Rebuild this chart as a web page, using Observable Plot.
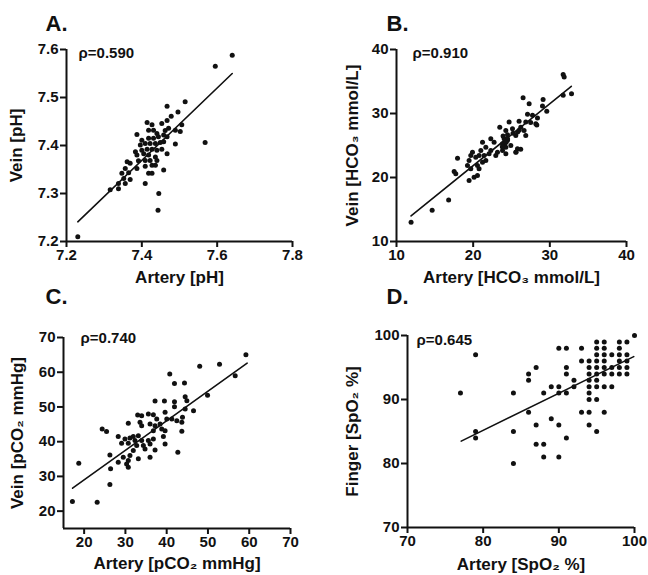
<!DOCTYPE html>
<html><head><meta charset="utf-8">
<script src="https://cdn.jsdelivr.net/npm/d3@7"></script>
<script src="https://cdn.jsdelivr.net/npm/@observablehq/plot@0.6"></script>
<style>
body{margin:0;background:#fff;}
#wrap{position:relative;width:648px;height:575px;overflow:hidden;background:#fff;}
#wrap > svg{position:absolute;}
</style></head><body><div id="wrap"></div>
<script>
// ---- Panel A: pH (artery, vein)
const phPoints = [
[7.23,7.21],[7.64,7.588],[7.595,7.565],[7.568,7.406],
[7.467,7.482],[7.515,7.491],[7.496,7.470],[7.478,7.461],
[7.414,7.448],[7.427,7.443],[7.453,7.446],[7.467,7.452],
[7.387,7.423],[7.418,7.432],[7.431,7.432],[7.440,7.425],[7.462,7.431],[7.471,7.436],[7.489,7.432],[7.506,7.443],[7.502,7.429],
[7.400,7.411],[7.418,7.415],[7.431,7.415],[7.444,7.418],[7.458,7.422],[7.467,7.418],
[7.396,7.401],[7.409,7.404],[7.422,7.404],[7.436,7.404],[7.449,7.406],[7.458,7.408],[7.489,7.403],
[7.383,7.387],[7.400,7.390],[7.414,7.392],[7.427,7.392],[7.440,7.390],[7.453,7.392],[7.467,7.383],
[7.387,7.380],[7.405,7.383],[7.418,7.380],[7.436,7.376],
[7.361,7.366],[7.369,7.363],[7.391,7.368],[7.409,7.369],[7.422,7.369],[7.440,7.369],
[7.356,7.352],[7.387,7.352],[7.409,7.357],[7.427,7.359],[7.436,7.359],[7.458,7.349],
[7.347,7.342],[7.365,7.343],[7.418,7.342],[7.427,7.342],
[7.352,7.331],[7.338,7.321],[7.356,7.321],[7.369,7.329],
[7.316,7.308],[7.338,7.310],[7.409,7.321],
[7.445,7.300],[7.443,7.265]
];
const phFit = [[7.23,7.241],[7.64,7.55]];
const phTicksX = [7.2,7.4,7.6,7.8];
const phTicksY = [7.2,7.3,7.4,7.5,7.6];

// ---- Panel B: HCO3
const hco3Points = [
[11.9,13.0],[14.65,14.9],[16.8,16.5],[31.74,36.1],[31.87,35.7],[32.83,33.1],[31.74,32.84],
[26.51,32.48],[27.30,31.54],[29.12,32.17],[29.04,31.17],[29.60,30.34],
[27.09,29.87],[27.74,29.71],[28.39,29.29],[28.17,28.41],[25.99,28.77],[24.69,28.66],[23.47,27.87],[24.26,27.36],
[25.13,27.62],[26.21,27.87],[26.64,27.36],[25.56,26.57],[24.48,26.68],[24.04,26.05],[24.48,25.79],[23.83,25.27],
[24.26,24.74],[24.91,25.0],[25.78,24.49],[25.56,23.95],[24.26,23.70],[23.83,24.22],[23.17,23.95],[22.30,26.05],
[22.73,25.52],[21.22,25.52],[21.65,24.74],[22.30,24.22],[21.0,24.22],[19.91,23.95],[19.69,23.44],[20.34,23.17],
[20.77,23.44],[21.43,23.44],[22.08,23.70],[22.95,23.44],[21.65,22.65],[21.22,22.39],[20.56,21.87],[19.47,22.65],
[17.96,23.01],[19.26,21.87],[19.69,21.35],[20.77,21.35],[20.56,20.30],[20.12,20.03],[19.47,19.52],[17.52,20.93],
[17.73,20.57],[26.86,26.57],[26.86,28.66],
[23.9,26.5],[24.1,25.2],[24.5,26.0],[23.8,24.8],[24.3,25.5],[25.2,26.9],[25.8,27.1],[26.0,27.4],[27.5,28.6],
[28.3,28.2],[26.2,24.4],[25.6,24.0]
];
const hco3Fit = [[11.9,14.0],[32.8,34.25]];
const hco3Ticks = [10,20,30,40];

// ---- Panel C: pCO2
const pco2Points = [
[17.16,22.78],[18.70,33.8],[23.16,22.59],[26.24,27.66],[59.2,65.0],[56.6,59.0],[52.8,62.3],[48.0,61.7],[49.9,53.4],
[40.75,59.46],[41.89,56.78],[44.31,56.88],[37.18,51.71],[39.45,51.71],[41.89,51.51],[44.48,52.95],[44.89,51.8],
[46.5,48.93],[41.89,50.07],[44.48,49.41],
[32.97,47.68],[33.94,47.49],[35.56,47.97],[36.77,47.78],[39.61,48.45],[37.59,46.54],[38.4,45.1],[40.02,46.54],
[41.24,46.54],[42.45,46.06],[43.83,47.0],[43.67,45.57],
[30.70,45.28],[33.54,45.57],[33.94,44.62],[35.97,45.1],[37.18,44.62],[36.77,43.18],[38.8,43.66],[39.61,43.18],
[43.67,42.98],[24.37,43.66],[25.43,42.9],
[28.26,41.46],[29.89,40.8],[31.1,41.07],[31.91,41.46],[33.13,41.74],[32.32,40.31],[33.94,40.31],[35.56,40.31],
[36.77,40.8],[39.2,41.46],[39.61,39.36],
[29.08,39.55],[30.7,39.55],[32.73,38.87],[34.35,38.87],[35.97,39.36],[34.75,37.92],[37.18,37.64],[31.91,37.43],
[31.1,36.0],[29.48,35.52],[30.7,34.56],[33.13,35.05],[35.97,35.52],[42.7,36.96],[26.24,36.2],[28.26,34.08],
[30.29,33.6],[30.7,32.63],[26.41,32.17]
];
const pco2Fit = [[17.2,26.6],[59.5,62.6]];
const pco2Ticks = [20,30,40,50,60,70];

// ---- Panel D: SpO2 (artery, finger)
const spo2Points = [
[77,91],[79,97],[79,85],[79,84],[84,91],[84,85],[84,80],[86,94],[86,93],[86,88],[87,95],[87,86],[87,83],[88,83],
[88,81],[88,91],[89,92],[89,87],[90,92],[90,91],[90,86],[90,81],[91,91],[91,84],[90,98],[91,98],[93,98],[91,95],
[91,94],[92,93],[92,92],
[100,100],[95,99],[96,99],[98,99],[99,99],[95,98],[96,98],[98,98],[95,97],[96,97],[97,97],[98,97],[99,97],
[93,96],[94,96],[95,96],[96,96],[98,96],[99,96],[94,95],[95,95],[96,95],[97,95],[98,95],[99,95],
[94,94],[95,94],[96,94],[97,94],[98,94],[99,94],[94,93],[95,93],[94,92],[95,92],[96,92],[97,92],
[94,91],[94,90],[95,90],[93,88],[94,88],[96,88],[94,86],[95,85]
];
const spo2Fit = [[77.1,83.5],[99.9,96.7]];
const spo2Ticks = [70,80,90,100];

const FONT = "'Liberation Sans', Arial, Helvetica, sans-serif";
const INK = "#111";

function panel(c) {
  const svg = Plot.plot({
    width: 324, height: 290,
    marginLeft: c.mL, marginRight: c.mR, marginTop: c.mT, marginBottom: c.mB,
    x: {domain: c.xDomain},
    y: {domain: c.yDomain},
    style: {fontFamily: FONT, fontWeight: "bold", color: INK, background: "transparent", overflow: "visible"},
    marks: [
      Plot.axisX({ticks: c.xTicks, tickFormat: c.fmt, tickSize: 6, tickPadding: 2, fontSize: 15, strokeWidth: 2, label: null}),
      Plot.axisY({ticks: c.yTicks, tickFormat: c.fmt, tickSize: 6, tickPadding: 2, fontSize: 15, strokeWidth: 2, label: null}),
      Plot.ruleX([c.xDomain[0]], {strokeWidth: 2, stroke: INK}),
      Plot.ruleY([c.yDomain[0]], {strokeWidth: 2, stroke: INK}),
      Plot.line(c.fit, {x: d => d[0], y: d => d[1], stroke: INK, strokeWidth: 1.6}),
      Plot.dot(c.points, {x: d => d[0], y: d => d[1], r: 2.5, fill: INK, stroke: "none"}),
      Plot.text([c.title], {frameAnchor: "top-left", textAnchor: "start", lineAnchor: "bottom", dx: c.tdx, dy: c.tdy, fontSize: 22, fill: INK}),
      Plot.text([c.rho], {frameAnchor: "top-left", textAnchor: "start", lineAnchor: "middle", dx: c.rdx, dy: c.rdy, fontSize: 15, fill: INK}),
      Plot.text([c.xLabel], {frameAnchor: "bottom", textAnchor: "middle", lineAnchor: "middle", dy: c.xldy, fontSize: 17, fill: INK}),
      Plot.text([c.yLabel], {frameAnchor: "left", textAnchor: "middle", rotate: -90, lineAnchor: "middle", dx: c.yldx, fontSize: 17, fill: INK})
    ]
  });
  svg.style.left = c.left + "px";
  svg.style.top = c.top + "px";
  document.getElementById("wrap").appendChild(svg);
}

const f1 = d3.format(".1f");
const f0 = d3.format("d");

panel({left: 0, top: 0, mL: 66, mR: 32, mT: 49, mB: 49, fmt: f1,
  xDomain: [7.2, 7.8], yDomain: [7.2, 7.6], xTicks: phTicksX, yTicks: phTicksY,
  points: phPoints, fit: phFit, title: "A.", tdx: -21, tdy: -19, rho: "ρ=0.590", rdx: 12, rdy: 4,
  xLabel: "Artery [pH]", xldy: 36, yLabel: "Vein [pH]", yldx: -50});

panel({left: 324, top: 0, mL: 72, mR: 22, mT: 49, mB: 49, fmt: f0,
  xDomain: [10, 40], yDomain: [10, 40], xTicks: hco3Ticks, yTicks: hco3Ticks,
  points: hco3Points, fit: hco3Fit, title: "B.", tdx: -10, tdy: -19, rho: "ρ=0.910", rdx: 16, rdy: 4,
  xLabel: "Artery [HCO₃ mmol/L]", xldy: 36, yLabel: "Vein [HCO₃ mmol/L]", yldx: -44});

panel({left: 0, top: 285, mL: 63, mR: 34, mT: 52, mB: 47, fmt: f0,
  xDomain: [15, 70], yDomain: [15, 70], xTicks: pco2Ticks, yTicks: pco2Ticks,
  points: pco2Points, fit: pco2Fit, title: "C.", tdx: -18, tdy: -34, rho: "ρ=0.740", rdx: 17, rdy: 1,
  xLabel: "Artery [pCO₂ mmHg]", xldy: 35, yLabel: "Vein [pCO₂ mmHg]", yldx: -46});

panel({left: 324, top: 285, mL: 83, mR: 14, mT: 50, mB: 48, fmt: f0,
  xDomain: [70, 100], yDomain: [70, 100], xTicks: spo2Ticks, yTicks: spo2Ticks,
  points: spo2Points, fit: spo2Fit, title: "D.", tdx: -21, tdy: -32, rho: "ρ=0.645", rdx: 9, rdy: 5,
  xLabel: "Artery [SpO₂ %]", xldy: 37, yLabel: "Finger [SpO₂ %]", yldx: -55});
</script></body></html>
